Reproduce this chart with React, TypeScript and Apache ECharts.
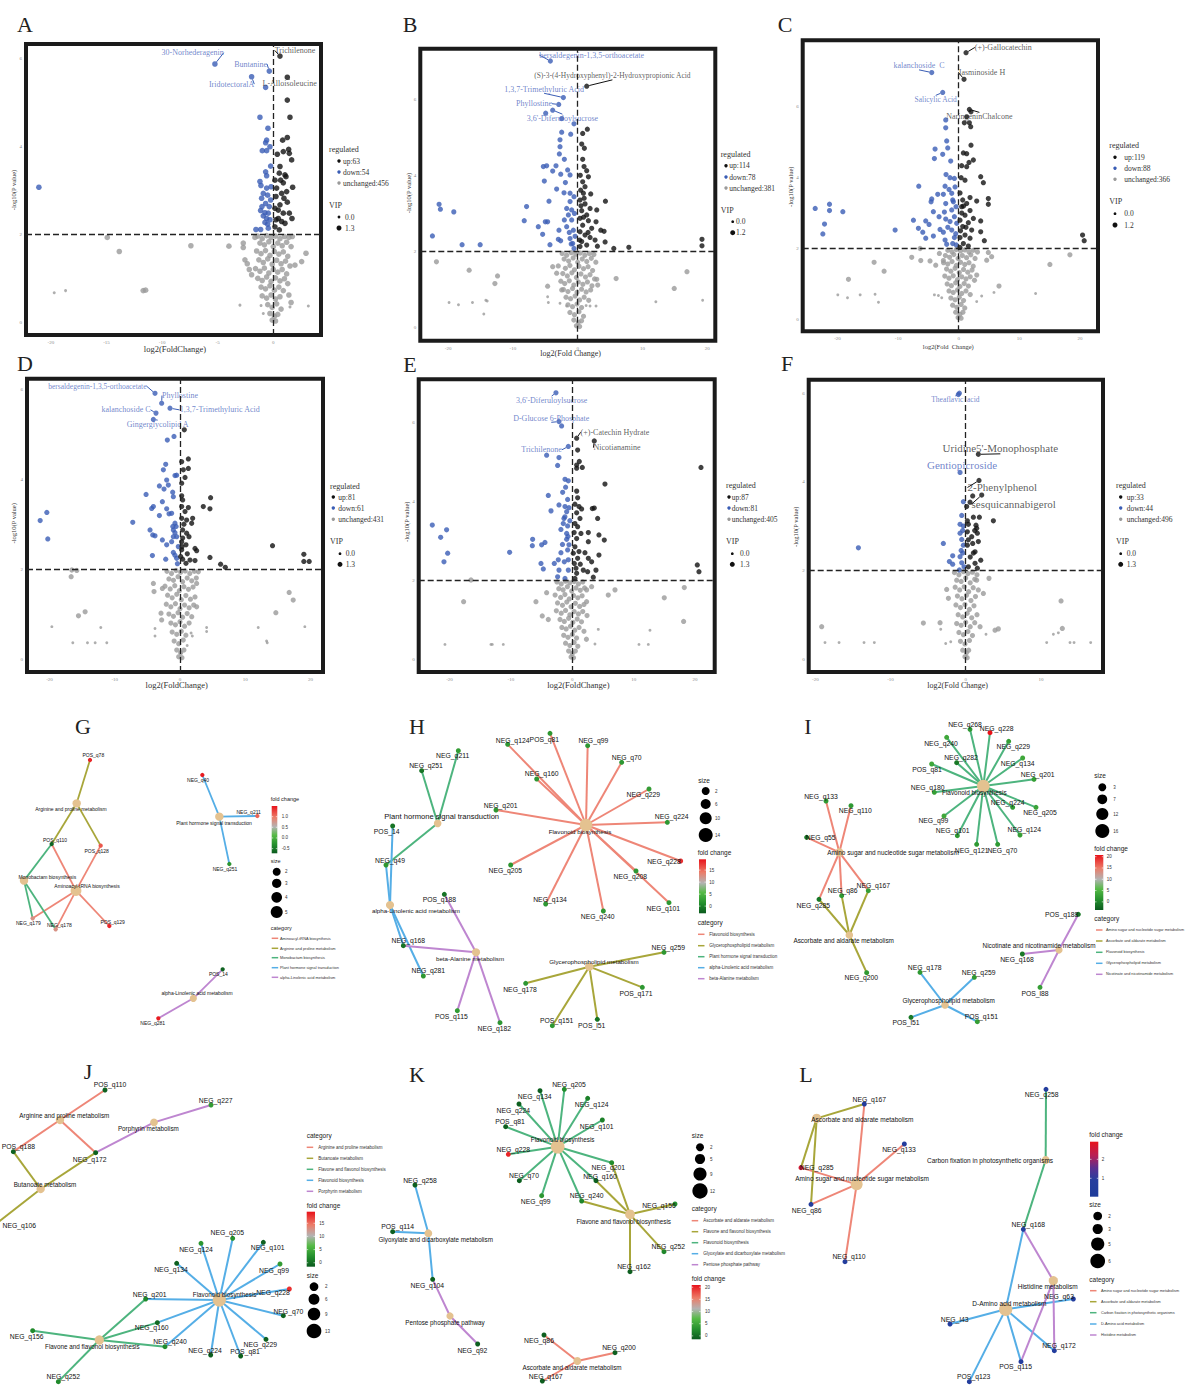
import React, { useEffect, useRef } from "react";
import * as echarts from "echarts";

const SERIF = "'Liberation Serif','Times New Roman',Times,serif";
const NARROW = "'Liberation Sans Narrow','Arial Narrow','Liberation Sans',Arial,sans-serif";
const BLUE = "#3a5db5";
const BLACK = "#111111";
const GREY = "#9a9a9a";
const BLUE_TXT = "#4d68bd";
const BLACK_TXT = "#333333";
const TAN = "#E4C290";
const CAT_COLORS = ["#EE8677", "#A8A63A", "#4DB47E", "#55AEE6", "#BE86D0"];

// ---------- volcano tick labels ----------
const xTicksA = [-20, -15, -10, -5, 0];
const xTicksWide = [-20, -10, 0, 10, 20];
const xTicksF = [-20, -10, 0, 10];
const yTicks = [0, 2, 4, 6];

// ---------- volcano A : [log2FC, -log10P, VIP big(1)/small(0)] ----------
const aCounts = [63, 54, 456];
const aVip = ["0.0", "1.3"];
const aAnn = [
  ["30-Norhederagenin", "down", -5.25, 5.87],
  ["Buntanine", "down", -0.36, 5.71],
  ["IridotectoralA", "down", -1.95, 5.58],
  ["Trichilenone", "up", 0.6, 6.05],
  ["L-Alloisoleucine", "up", 1.26, 5.57],
];
const aDown = [[-0.69,5.34,1],[-1.2,4.66,1],[-0.48,4.41,1],[-0.6,4.14,1],[-0.69,4.08,1],[-0.3,3.99,1],[-0.99,3.9,1],[-0.6,3.9,1],[-0.24,3.55,1],[-0.69,3.42,1],[-0.6,3.33,1],[-1.2,3.2,1],[-1.11,3.11,1],[-0.6,3.05,1],[-0.9,2.93,1],[-0.51,2.89,1],[-1.05,2.82,1],[-0.24,2.78,1],[-0.69,2.7,1],[-0.36,2.63,1],[-1.14,2.54,1],[-0.75,2.49,1],[-0.45,2.48,1],[-0.9,2.42,1],[-0.6,2.36,1],[-0.3,2.33,1],[-0.75,2.27,1],[-0.51,2.23,1],[-1.56,2.11,1],[-1.14,2.11,1],[-0.45,2.14,1],[-21.08,3.07,1],[-0.2,3.08,1],[-1.02,2.63,1]];
const aUp = [[1.26,5.05,1],[1.5,4.66,1],[0.84,4.14,1],[1.26,4.2,1],[0.36,3.82,1],[0.9,3.88,1],[1.38,3.93,1],[1.44,3.84,1],[1.65,3.69,1],[0.6,3.54,1],[0.54,3.39,1],[1.05,3.35,1],[0.15,3.23,1],[0.9,3.17,1],[1.74,3.07,1],[0.3,3.05,1],[1.2,2.97,1],[0.75,2.93,1],[0.24,2.86,1],[0.96,2.82,1],[1.26,2.73,1],[0.6,2.67,1],[0.15,2.59,1],[0.9,2.48,1],[1.44,2.48,1],[0.45,2.36,1],[1.68,2.36,1],[0.75,2.29,1],[0.24,2.33,1],[0.54,2.1,1],[0.15,2.17,1],[1.05,2.25,1],[0.66,3.23,1],[1.14,3.31,1],[0.45,2.55,1]];
const aUnchangedOut = [[-14.93,1.93,1],[-13.85,1.61,1],[-7.41,1.74,1],[-3.99,1.73,1],[-2.7,1.8,1],[-2.7,1.7,1],[-1.65,1.93,1],[-19.7,0.67,0],[-18.68,0.72,0],[-11.7,0.72,1],[-11.48,0.73,1],[-3.0,0.39,0],[3.15,0.37,0],[2.94,1.57,1],[2.55,1.38,1],[1.95,1.3,1],[1.71,1.95,1],[-2.55,1.42,1],[-2.34,1.33,1],[-2.16,1.2,1],[-1.95,1.08,1]];
const aUnchangedCore = [[-1.4,1.96,1],[-1.0,1.9,1],[-0.6,1.97,1],[-0.2,1.93,1],[0.2,1.96,1],[0.6,1.9,1],[1.0,1.95,1],[1.4,1.93,1],[-1.2,1.8,1],[-0.8,1.76,1],[-0.4,1.83,1],[0.0,1.72,1],[0.4,1.8,1],[0.8,1.74,1],[1.2,1.82,1],[1.6,1.72,1],[-1.5,1.62,1],[-1.1,1.56,1],[-0.7,1.63,1],[-0.3,1.52,1],[0.1,1.61,1],[0.5,1.55,1],[0.9,1.6,1],[1.3,1.5,1],[-1.3,1.42,1],[-0.9,1.36,1],[-0.5,1.44,1],[-0.1,1.32,1],[0.3,1.41,1],[0.7,1.33,1],[1.1,1.39,1],[1.5,1.28,1],[-1.6,1.22,1],[-1.2,1.16,1],[-0.8,1.23,1],[-0.4,1.12,1],[0.0,1.2,1],[0.4,1.14,1],[0.8,1.2,1],[1.2,1.1,1],[-1.4,1.0,1],[-1.0,0.95,1],[-0.6,1.03,1],[-0.2,0.93,1],[0.2,1.01,1],[0.6,0.94,1],[1.0,0.99,1],[1.3,0.88,1],[-1.1,0.8,1],[-0.7,0.76,1],[-0.3,0.83,1],[0.1,0.73,1],[0.5,0.8,1],[0.9,0.72,1],[1.4,0.62,1],[-1.0,0.6,1],[-0.6,0.55,1],[-0.2,0.62,1],[0.2,0.53,1],[0.6,0.58,1],[1.6,0.45,1],[-1.1,0.38,0],[-0.5,0.4,1],[-0.1,0.34,1],[0.3,0.42,1],[0.7,0.3,1],[1.5,0.35,0],[-0.9,0.2,0],[-0.3,0.2,1],[0.1,0.14,1],[0.4,0.18,1],[-0.1,0.05,1],[0.2,0.03,1]];

// ---------- volcano B ----------
const bCounts = [114, 78, 381];
const bVip = ["0.0", "1.2"];
const bAnn = [
  ["bersaldegenin-1,3,5-orthoacetate", "down", -4.22, 7.0],
  ["(S)-3-(4-Hydroxyphenyl)-2-Hydroxypropionic Acid", "up", 1.39, 6.34],
  ["1,3,7-Trimethyluric Acid", "down", -2.21, 6.04],
  ["Phyllostine", "down", -2.93, 5.86],
  ["3,6'-Diferuloylsucrose", "down", -3.86, 5.71],
];
const bDown = [[-4.94,5.63,1],[-2.47,5.49,1],[-0.57,5.35,1],[-2.47,5.13,1],[-1.08,5.08,1],[-2.73,4.93,1],[-2.73,4.75,1],[-2.83,4.56,1],[-2.06,4.42,1],[-5.3,4.23,1],[-4.79,4.25,1],[-3.35,4.25,1],[-3.86,4.11,1],[-1.55,4.14,1],[-2.62,4.03,1],[-1.18,4.01,1],[-5.15,3.85,1],[-1.9,3.81,1],[-3.25,3.64,1],[-2.11,3.54,1],[-1.18,3.53,1],[-0.57,3.44,1],[-4.43,3.32,1],[-7.89,3.18,1],[-1.18,3.31,1],[-1.7,3.13,1],[-0.93,3.09,1],[-8.25,2.81,1],[-5.0,2.78,1],[-4.64,2.78,1],[-2.06,2.83,1],[-6.08,2.65,1],[-5.41,2.45,1],[-2.89,2.56,1],[-1.7,2.65,1],[-0.67,2.56,1],[-2.99,2.32,1],[-2.63,2.28,1],[-1.18,2.34,1],[-4.28,2.18,1],[-0.77,2.21,1],[-0.57,2.08,1],[-21.39,3.24,1],[-21.19,3.11,1],[-19.12,3.04,1],[-22.42,2.41,1],[-17.84,2.18,1],[-15.05,2.18,1],[-1.44,2.96,1],[-0.93,2.83,1],[-0.4,2.4,1],[-1.3,2.5,1],[-0.5,3.0,1],[-1.0,2.2,1]];
const bUp = [[1.49,5.21,1],[0.77,5.1,1],[0.62,4.82,1],[1.03,4.71,1],[0.77,4.42,1],[0.98,4.23,1],[1.39,4.12,1],[1.65,3.96,1],[0.77,3.83,1],[1.13,3.7,1],[0.46,3.61,1],[0.88,3.53,1],[2.01,3.51,1],[0.36,3.35,1],[4.28,3.32,1],[1.13,3.25,1],[1.91,3.13,1],[2.94,3.09,1],[0.62,3.07,1],[1.39,2.96,1],[0.36,2.87,1],[1.65,2.81,1],[2.83,2.78,1],[0.77,2.69,1],[2.16,2.61,1],[3.56,2.56,1],[4.07,2.53,1],[0.36,2.52,1],[1.13,2.43,1],[1.91,2.37,1],[2.68,2.3,1],[4.23,2.25,1],[0.62,2.26,1],[1.39,2.17,1],[3.04,2.14,1],[0.36,2.13,1],[5.57,2.08,1],[7.89,2.11,1],[19.18,2.32,1],[19.18,2.15,1],[0.5,3.2,1],[1.0,3.4,1],[0.3,2.3,1],[0.9,2.9,1],[1.6,2.5,1],[0.4,4.0,1]];
const bUnchangedOut = [[-21.8,1.73,1],[-16.75,1.51,1],[-12.78,1.16,1],[-12.37,1.36,1],[-19.85,0.66,0],[-18.4,0.6,0],[-16.24,0.66,0],[-14.18,0.72,0],[-13.97,0.7,0],[-14.49,0.36,0],[-4.64,1.09,1],[-4.64,0.81,0],[-4.53,0.66,0],[-3.86,1.6,1],[-3.25,1.43,1],[-2.47,0.99,1],[-2.73,0.64,0],[-1.7,0.57,0],[1.91,0.57,0],[2.83,0.57,0],[3.09,1.12,1],[2.94,1.27,1],[5.93,1.29,1],[12.06,0.68,0],[14.9,1.03,1],[16.86,1.47,1],[19.28,0.72,0]];
const bUnchangedCore = [[-2.4,1.95,1],[-1.7,1.9,1],[-1.0,1.97,1],[-0.3,1.93,1],[0.4,1.96,1],[1.1,1.9,1],[1.8,1.95,1],[2.5,1.92,1],[-2.1,1.8,1],[-1.4,1.75,1],[-0.7,1.83,1],[0.0,1.72,1],[0.7,1.8,1],[1.4,1.74,1],[2.1,1.82,1],[2.8,1.72,1],[-3.0,1.62,1],[-1.9,1.56,1],[-1.2,1.63,1],[-0.5,1.52,1],[0.2,1.61,1],[0.9,1.55,1],[1.6,1.6,1],[2.3,1.5,1],[-2.3,1.42,1],[-1.6,1.36,1],[-0.9,1.44,1],[-0.2,1.32,1],[0.5,1.41,1],[1.2,1.33,1],[1.9,1.39,1],[2.6,1.28,1],[-2.6,1.22,1],[-2.0,1.16,1],[-1.3,1.23,1],[-0.6,1.12,1],[0.1,1.2,1],[0.8,1.14,1],[1.5,1.2,1],[2.2,1.1,1],[-2.2,1.0,1],[-1.5,0.95,1],[-0.8,1.03,1],[-0.1,0.93,1],[0.6,1.01,1],[1.3,0.94,1],[2.0,0.99,1],[-1.8,0.8,1],[-1.1,0.76,1],[-0.4,0.83,1],[0.3,0.73,1],[1.0,0.8,1],[1.7,0.72,1],[-1.5,0.6,1],[-0.8,0.55,1],[-0.1,0.62,1],[0.6,0.53,1],[1.3,0.58,0],[-1.2,0.4,1],[-0.5,0.34,1],[0.2,0.42,1],[0.9,0.3,1],[-0.6,0.2,1],[0.1,0.14,1],[0.6,0.18,1],[-0.2,0.05,1],[0.3,0.03,1]];

// ---------- volcano C ----------
const cCounts = [119, 88, 366];
const cVip = ["0.0", "1.2"];
const cAnn = [
  ["(+)-Gallocatechin", "up", 1.21, 7.53],
  ["kalanchoside  C", "down", -4.45, 6.97],
  ["Jasminoside H", "up", 0.88, 6.78],
  ["Salicylic Acid", "down", -2.64, 6.41],
  ["NaringeninChalcone", "up", 1.76, 5.93],
];
const cDown = [[-2.14,5.63,1],[-2.14,5.41,1],[-1.98,5.04,1],[-3.9,4.81,1],[-1.81,4.84,1],[-2.64,4.66,1],[-4.01,4.54,1],[-1.32,4.47,1],[-2.09,4.09,1],[-1.43,4.0,1],[-0.71,3.98,1],[-6.59,3.76,1],[-2.25,3.76,1],[-1.59,3.67,1],[-3.46,3.53,1],[-2.53,3.53,1],[-1.15,3.56,1],[-4.45,3.4,1],[-4.56,3.32,1],[-2.14,3.27,1],[-0.88,3.32,1],[-4.18,3.04,1],[-2.36,3.03,1],[-1.15,3.09,1],[-3.24,2.9,1],[-2.14,2.83,1],[-7.47,2.8,1],[-5.44,2.78,1],[-0.71,2.9,1],[-1.43,2.76,1],[-4.89,2.68,1],[-6.65,2.57,1],[-3.08,2.54,1],[-5.93,2.46,1],[-10.49,2.52,1],[-2.53,2.46,1],[-1.15,2.52,1],[-5.44,2.29,1],[-4.18,2.35,1],[-2.25,2.24,1],[-0.71,2.31,1],[-1.98,2.12,1],[-0.99,2.14,1],[-23.68,3.13,1],[-21.32,3.25,1],[-21.32,3.07,1],[-19.12,3.04,1],[-22.14,2.69,1],[-22.42,2.41,1],[-0.6,3.74,1],[-0.99,3.37,1],[-0.44,3.18,1],[-0.33,2.71,1],[-0.49,2.42,1],[-1.8,2.6,1],[-0.4,2.1,1]];
const cUp = [[2.03,5.86,1],[1.32,5.72,1],[0.93,5.55,1],[1.76,5.55,1],[1.98,5.44,1],[2.03,4.92,1],[0.77,4.7,1],[1.32,4.68,1],[2.42,4.5,1],[1.7,4.43,1],[0.49,4.34,1],[1.32,4.31,1],[3.63,4.03,1],[4.07,3.86,1],[1.04,3.93,1],[0.22,3.57,1],[1.87,3.44,1],[0.66,3.37,1],[2.97,3.34,1],[4.89,3.41,1],[4.89,3.25,1],[1.32,3.27,1],[0.49,3.18,1],[1.87,3.07,1],[1.04,2.94,1],[2.42,2.85,1],[3.63,2.78,1],[0.22,2.8,1],[1.59,2.73,1],[0.66,2.62,1],[2.14,2.52,1],[3.63,2.47,1],[1.04,2.38,1],[0.22,2.31,1],[1.87,2.29,1],[4.23,2.22,1],[0.77,2.14,1],[1.59,2.07,1],[0.22,2.03,1],[20.44,2.38,1],[20.71,2.22,1],[0.5,3.0,1],[1.2,2.6,1],[0.3,2.5,1],[0.8,3.2,1],[0.4,4.0,1]];
const cUnchangedOut = [[-13.96,1.61,1],[-12.31,1.36,1],[-18.19,1.13,1],[-19.95,0.69,0],[-18.35,0.61,0],[-16.26,0.69,0],[-13.8,0.71,0],[-13.24,0.48,0],[-7.75,1.75,1],[-6.37,2.0,1],[-6.26,1.66,1],[-4.73,1.65,1],[-3.79,1.53,1],[-3.19,1.86,1],[-2.53,1.66,1],[-4.01,0.69,0],[-3.35,0.67,0],[-2.8,0.61,0],[4.62,1.67,1],[5.44,1.77,1],[4.89,1.89,1],[6.65,0.94,1],[5.82,0.76,0],[2.97,0.5,0],[3.79,0.66,0],[12.69,0.73,0],[15.05,1.55,1],[18.35,1.82,1],[2.97,1.25,1]];
const cUnchangedCore = [[-1.8,1.95,1],[-1.1,1.9,1],[-0.4,1.97,1],[0.3,1.93,1],[1.0,1.96,1],[1.7,1.9,1],[2.4,1.95,1],[3.1,1.9,1],[-2.2,1.8,1],[-1.5,1.75,1],[-0.8,1.83,1],[-0.1,1.72,1],[0.6,1.8,1],[1.3,1.74,1],[2.0,1.82,1],[2.7,1.72,1],[-2.5,1.6,1],[-1.8,1.56,1],[-1.1,1.63,1],[-0.4,1.52,1],[0.3,1.61,1],[1.0,1.55,1],[1.7,1.6,1],[2.4,1.5,1],[-2.0,1.42,1],[-1.3,1.36,1],[-0.6,1.44,1],[0.1,1.32,1],[0.8,1.41,1],[1.5,1.33,1],[2.2,1.39,1],[-2.3,1.22,1],[-1.6,1.16,1],[-0.9,1.23,1],[-0.2,1.12,1],[0.5,1.2,1],[1.2,1.14,1],[1.9,1.2,1],[2.6,1.1,1],[-1.9,1.0,1],[-1.2,0.95,1],[-0.5,1.03,1],[0.2,0.93,1],[0.9,1.01,1],[1.6,0.94,1],[-1.6,0.8,1],[-0.9,0.76,1],[-0.2,0.83,1],[0.5,0.73,1],[1.2,0.8,1],[1.9,0.7,1],[-1.3,0.6,1],[-0.6,0.55,1],[0.1,0.62,1],[0.8,0.53,1],[-1.0,0.4,1],[-0.3,0.34,1],[0.4,0.42,1],[1.0,0.32,1],[-0.5,0.2,1],[0.2,0.14,1],[0.7,0.2,1],[-0.1,0.05,1],[0.4,0.03,1]];

// ---------- volcano D ----------
const dCounts = [81, 61, 431];
const dVip = ["0.0", "1.3"];
const dAnn = [
  ["bersaldegenin-1,3,5-orthoacetate", "down", -3.83, 5.91],
  ["Phyllostine", "down", -2.81, 5.69],
  ["kalanchoside C", "down", -3.68, 5.47],
  ["1,3,7-Trimethyluric Acid", "down", -1.53, 5.58],
  ["Gingerglycolipid A", "down", -4.08, 5.33],
];
const dDown = [[-1.94,4.87,1],[-0.92,4.95,1],[-2.19,4.33,1],[-2.55,4.21,1],[-0.51,4.09,1],[-0.77,4.08,1],[-2.04,3.98,1],[-3.16,3.85,1],[-2.45,3.78,1],[-1.79,3.87,1],[-1.12,3.71,1],[-1.02,3.61,1],[-5.2,3.66,1],[-4.08,3.39,1],[-4.34,3.35,1],[-2.7,3.5,1],[-2.04,3.34,1],[-3.16,3.19,1],[-1.68,3.23,1],[-1.28,3.24,1],[-7.24,3.04,1],[-4.59,2.87,1],[-4.18,2.76,1],[-3.83,2.74,1],[-1.02,2.87,1],[-0.77,2.81,1],[-2.7,2.65,1],[-1.28,2.61,1],[-2.04,2.54,1],[-1.02,2.37,1],[-0.77,2.31,1],[-4.23,2.3,1],[-2.19,2.22,1],[-0.51,2.24,1],[-21.43,3.08,1],[-20.41,3.26,1],[-20.26,2.67,1],[-0.77,3.02,1],[-0.51,2.72,1],[-1.02,2.72,1],[-0.26,2.5,1],[-0.6,2.95,1],[-1.1,2.95,1],[-0.4,2.12,1]];
const dUp = [[0.66,5.1,1],[1.28,4.45,1],[0.26,4.39,1],[1.28,4.24,1],[0.51,4.21,1],[0.77,4.04,1],[0.26,3.91,1],[0.26,3.63,1],[0.41,3.54,1],[4.69,3.59,1],[3.57,3.39,1],[4.59,3.34,1],[0.26,3.39,1],[1.28,3.37,1],[0.77,3.28,1],[1.94,3.13,1],[0.26,3.13,1],[1.02,3.09,1],[1.79,3.02,1],[0.41,2.87,1],[1.38,2.72,1],[0.26,2.61,1],[0.92,2.54,1],[2.3,2.46,1],[2.55,2.41,1],[0.26,2.43,1],[1.12,2.34,1],[0.41,2.22,1],[1.53,2.2,1],[2.3,2.19,1],[4.59,2.26,1],[6.22,2.11,1],[6.94,2.04,1],[0.92,2.13,1],[14.18,2.52,1],[18.98,2.33,1],[18.98,2.17,1],[19.8,2.17,1],[0.41,2.69,1],[1.02,2.8,1],[0.1,2.28,1],[0.6,3.0,1],[0.3,2.5,1]];
const dUnchangedOut = [[-16.58,1.98,1],[-16.68,1.83,1],[-15.82,1.97,1],[-15.56,0.96,1],[-14.54,1.05,1],[-19.64,0.72,0],[-12.14,0.7,0],[-16.43,0.36,0],[-14.18,0.36,0],[-13.0,0.36,0],[-11.22,0.36,0],[-3.83,0.68,0],[-3.83,0.51,0],[-4.08,1.68,1],[-3.98,1.5,1],[-2.7,1.57,1],[-2.91,1.02,1],[-2.81,0.87,1],[2.81,1.94,1],[2.55,1.68,1],[2.55,1.16,1],[4.08,0.7,0],[4.08,0.61,0],[1.89,0.51,0],[11.99,0.7,0],[13.27,0.4,0],[13.37,0.36,0],[14.69,1.03,1],[16.73,1.48,1],[17.35,1.31,1],[19.13,0.72,0]];
const dUnchangedCore = [[-2.0,1.95,1],[-1.3,1.9,1],[-0.6,1.97,1],[0.1,1.93,1],[0.8,1.96,1],[1.5,1.9,1],[2.2,1.95,1],[-1.7,1.78,1],[-1.0,1.75,1],[-0.3,1.83,1],[0.4,1.72,1],[1.1,1.8,1],[1.8,1.74,1],[2.5,1.8,1],[-2.3,1.62,1],[-1.5,1.56,1],[-0.8,1.63,1],[-0.1,1.52,1],[0.6,1.61,1],[1.3,1.55,1],[2.0,1.6,1],[-1.9,1.42,1],[-1.2,1.36,1],[-0.5,1.44,1],[0.2,1.32,1],[0.9,1.41,1],[1.6,1.33,1],[2.3,1.38,1],[-2.1,1.22,1],[-1.4,1.16,1],[-0.7,1.23,1],[0.0,1.12,1],[0.7,1.2,1],[1.4,1.14,1],[2.1,1.2,1],[-1.7,1.0,1],[-1.0,0.95,1],[-0.3,1.03,1],[0.4,0.93,1],[1.1,1.01,1],[1.8,0.94,1],[-1.4,0.8,1],[-0.7,0.76,1],[0.0,0.83,1],[0.7,0.73,1],[1.4,0.8,1],[-1.2,0.6,1],[-0.5,0.55,1],[0.2,0.62,1],[0.9,0.53,1],[1.7,0.58,0],[-0.9,0.4,1],[-0.2,0.34,1],[0.5,0.42,1],[1.1,0.3,0],[-0.5,0.2,1],[0.1,0.14,1],[0.6,0.2,1],[-0.2,0.05,1],[0.3,0.03,1]];

// ---------- volcano E ----------
const eCounts = [87, 81, 405];
const eVip = ["0.0", "1.3"];
const eAnn = [
  ["3,6'-Diferuloylsucrose", "down", -2.66, 6.74],
  ["D-Glucose 6-Phosphate", "down", -2.17, 6.01],
  ["(+)-Catechin Hydrate", "up", 0.71, 5.59],
  ["Nicotianamine", "up", 3.58, 5.52],
  ["Trichilenone", "down", -0.65, 5.38],
];
const eDown = [[-1.74,5.9,1],[-4.18,5.16,1],[-2.17,5.1,1],[-2.39,4.9,1],[-1.19,4.55,1],[-0.65,4.51,1],[-1.09,4.35,1],[-3.91,4.14,1],[-1.57,4.22,1],[-0.76,4.04,1],[-2.17,3.9,1],[-1.19,3.86,1],[-0.54,3.83,1],[-3.47,3.75,1],[-0.92,3.73,1],[-1.36,3.56,1],[-1.47,3.43,1],[-0.76,3.37,1],[-1.85,3.28,1],[-0.92,3.18,1],[-6.46,3.03,1],[-4.45,2.95,1],[-4.99,2.89,1],[-6.51,2.87,1],[-0.92,3.03,1],[-0.54,2.89,1],[-10.21,2.7,1],[-1.85,2.69,1],[-0.76,2.76,1],[-5.1,2.42,1],[-2.93,2.42,1],[-4.72,2.28,1],[-2.28,2.51,1],[-1.3,2.46,1],[-0.65,2.51,1],[-2.17,2.25,1],[-0.65,2.25,1],[-2.39,2.08,1],[-1.19,2.04,1],[-22.8,3.39,1],[-20.47,3.27,1],[-21.44,3.08,1],[-20.3,2.68,1],[-20.9,2.46,1],[-1.2,3.6,1],[-0.4,3.5,1],[-0.7,3.1,1],[-1.6,2.9,1]];
const eUp = [[0.87,5.29,1],[1.14,5.0,1],[0.71,4.91,1],[1.63,4.85,1],[0.71,4.83,1],[20.96,4.85,1],[5.32,4.43,1],[0.71,4.25,1],[0.87,4.08,1],[0.43,3.92,1],[1.09,3.86,1],[1.52,3.8,1],[3.26,3.81,1],[3.58,3.82,1],[0.71,3.7,1],[1.25,3.56,1],[4.13,3.56,1],[0.43,3.43,1],[0.87,3.35,1],[2.61,3.2,1],[1.41,3.18,1],[4.34,3.14,1],[0.71,3.05,1],[5.21,3.01,1],[2.61,2.97,1],[0.43,2.84,1],[1.09,2.72,1],[0.16,2.68,1],[2.06,2.69,1],[4.34,2.63,1],[0.87,2.55,1],[2.61,2.55,1],[3.15,2.46,1],[0.33,2.42,1],[1.79,2.25,1],[3.85,2.25,1],[2.5,2.21,1],[0.71,2.17,1],[3.42,2.07,1],[0.43,2.04,1],[20.36,2.38,1],[20.63,2.21,1],[0.3,3.2,1],[1.3,2.4,1],[0.6,2.3,1]];
const eUnchangedOut = [[-16.5,2.0,1],[-17.7,1.45,1],[-20.74,0.37,0],[-13.25,0.37,0],[-13.03,0.37,0],[-11.24,0.37,0],[-5.92,1.45,1],[-4.89,1.09,1],[-3.91,1.0,1],[-4.18,1.68,1],[2.33,1.75,1],[3.15,1.83,1],[2.33,1.45,1],[5.86,1.62,1],[6.95,1.75,1],[4.23,0.75,0],[3.69,0.38,0],[10.86,0.37,0],[12.38,0.37,0],[12.65,0.73,0],[14.98,1.55,1],[18.24,1.81,1],[18.13,0.95,1]];
const eUnchangedCore = [[-2.5,1.95,1],[-1.8,1.9,1],[-1.1,1.97,1],[-0.4,1.93,1],[0.3,1.96,1],[1.0,1.9,1],[1.7,1.95,1],[-2.2,1.78,1],[-1.5,1.75,1],[-0.8,1.83,1],[-0.1,1.72,1],[0.6,1.8,1],[1.3,1.74,1],[2.0,1.8,1],[-2.8,1.62,1],[-1.9,1.56,1],[-1.2,1.63,1],[-0.5,1.52,1],[0.2,1.61,1],[0.9,1.55,1],[1.6,1.6,1],[-2.4,1.42,1],[-1.6,1.36,1],[-0.9,1.44,1],[-0.2,1.32,1],[0.5,1.41,1],[1.2,1.33,1],[1.9,1.38,1],[-2.6,1.22,1],[-1.8,1.16,1],[-1.1,1.23,1],[-0.4,1.12,1],[0.3,1.2,1],[1.0,1.14,1],[1.7,1.2,1],[2.4,1.1,1],[-2.0,1.0,1],[-1.3,0.95,1],[-0.6,1.03,1],[0.1,0.93,1],[0.8,1.01,1],[1.5,0.94,1],[-1.7,0.8,1],[-1.0,0.76,1],[-0.3,0.83,1],[0.4,0.73,1],[1.1,0.8,1],[1.9,0.7,1],[-1.4,0.6,1],[-0.7,0.55,1],[0.0,0.62,1],[0.7,0.53,1],[2.3,0.5,1],[-1.1,0.4,1],[-0.4,0.34,1],[0.3,0.42,1],[0.9,0.32,1],[-0.6,0.2,1],[0.0,0.14,1],[0.5,0.2,1],[-0.2,0.05,1],[0.2,0.03,1]];

// ---------- volcano F ----------
const fCounts = [33, 44, 496];
const fVip = ["0.0", "1.3"];
const fAnn = [
  ["Theaflavic  acid", "down", -0.84, 6.0],
  ["Uridine5'-Monophosphate", "up", 1.68, 4.62],
  ["Gentiopicroside", "down", -0.75, 4.21],
  ["2-Phenylphenol", "up", 1.77, 4.03],
  ["sesquicannabigerol", "up", 2.13, 3.7],
];
const fDown = [[-0.98,5.97,1],[-0.31,3.55,1],[-0.53,3.24,1],[-0.75,3.04,1],[-0.31,3.0,1],[-0.53,2.7,1],[-2.97,2.61,1],[-0.31,2.57,1],[-14.27,2.51,1],[-0.4,2.39,1],[-1.73,2.33,1],[-0.75,2.31,1],[-2.17,2.2,1],[-1.73,2.14,1],[-0.53,2.17,1],[-0.84,2.01,1],[-0.22,2.08,1],[-0.75,2.84,1],[-0.4,2.9,1],[-0.6,2.45,1]];
const fUp = [[0.93,3.68,1],[0.58,3.54,1],[0.13,3.44,1],[1.02,3.2,1],[1.82,3.2,1],[3.68,3.12,1],[0.22,3.12,1],[0.35,3.04,1],[1.37,3.02,1],[1.46,2.95,1],[0.22,2.87,1],[1.55,2.84,1],[0.8,2.76,1],[0.35,2.69,1],[1.68,2.65,1],[0.93,2.61,1],[0.22,2.57,1],[1.24,2.42,1],[1.02,2.39,1],[2.0,2.23,1],[1.24,2.16,1],[0.35,2.08,1],[1.55,2.05,1],[0.6,2.3,1],[1.2,2.9,1]];
const fUnchangedOut = [[3.1,1.82,1],[1.46,1.78,1],[1.68,1.56,1],[2.35,1.48,1],[-2.53,1.57,1],[-2.3,1.37,1],[-5.63,0.81,1],[-3.41,0.82,1],[-3.32,0.67,0],[-2.66,0.35,0],[-1.99,0.39,0],[-19.15,0.73,1],[-18.71,0.37,0],[-16.84,0.37,0],[-13.52,0.37,0],[-12.15,0.37,0],[1.91,0.73,1],[2.7,0.56,0],[3.9,0.65,1],[4.34,0.68,1],[12.68,1.31,1],[12.85,0.69,1],[11.66,0.56,0],[12.32,0.59,0],[10.77,0.37,0],[13.87,0.37,0],[14.41,0.37,0],[16.62,0.37,0]];
const fUnchangedCore = [[-1.5,1.95,1],[-0.9,1.9,1],[-0.3,1.97,1],[0.3,1.93,1],[0.9,1.96,1],[1.5,1.9,1],[-1.2,1.78,1],[-0.6,1.75,1],[0.0,1.83,1],[0.6,1.72,1],[1.2,1.8,1],[-1.4,1.62,1],[-0.8,1.56,1],[-0.2,1.63,1],[0.4,1.52,1],[1.0,1.61,1],[-1.1,1.42,1],[-0.5,1.36,1],[0.1,1.44,1],[0.7,1.32,1],[1.3,1.41,1],[-1.3,1.22,1],[-0.7,1.16,1],[-0.1,1.23,1],[0.5,1.12,1],[1.1,1.2,1],[-1.0,1.0,1],[-0.4,0.95,1],[0.2,1.03,1],[0.8,0.93,1],[1.5,1.0,1],[-1.2,0.8,1],[-0.6,0.76,1],[0.0,0.83,1],[0.6,0.73,1],[1.2,0.82,1],[-0.9,0.6,1],[-0.3,0.55,1],[0.3,0.62,1],[0.9,0.53,1],[-0.7,0.4,1],[-0.1,0.34,1],[0.5,0.42,1],[-0.4,0.2,1],[0.1,0.14,1],[0.4,0.2,1],[-0.1,0.05,1],[0.2,0.03,1]];

// ---------- networks : categories [name, x, y, labelX, labelY]; metabolites [name, x, y, foldChange, labelX, labelY]; links [categoryIndex, metabolite] ----------
const gCats = [
  ["Aminoacyl-tRNA biosynthesis", 228, 572, 261, 558],
  ["Arginine and proline metabolism", 230, 310, 213, 327],
  ["Monobactam biosynthesis", 72, 542, 142, 530],
  ["Plant hormone signal transduction", 658, 350, 642, 368],
  ["alpha-Linolenic acid metabolism", 580, 895, 591, 880],
];
const gMets = [
  ["POS_q78", 270, 180, 1.4, 280, 165],
  ["POS_q110", 155, 432, -0.65, 165, 420],
  ["POS_q128", 302, 437, 1.15, 290, 452],
  ["NEG_q179", 98, 655, 0.8, 85, 668],
  ["NEG_q178", 167, 688, 0.8, 178, 675],
  ["POS_q129", 328, 678, 1.4, 338, 665],
  ["NEG_q40", 607, 225, 1.45, 594, 240],
  ["NEG_q211", 772, 348, 1.1, 746, 336],
  ["NEG_q251", 688, 492, -0.25, 675, 506],
  ["POS_14", 668, 808, -0.65, 655, 822],
  ["NEG_q281", 475, 955, 1.45, 458, 968],
];
const gLinks = [[0,"POS_q110"],[0,"POS_q128"],[0,"NEG_q179"],[0,"NEG_q178"],[0,"POS_q129"],[1,"POS_q78"],[1,"POS_q110"],[1,"POS_q128"],[2,"POS_q110"],[2,"NEG_q179"],[2,"NEG_q178"],[3,"NEG_q40"],[3,"NEG_q211"],[3,"NEG_q251"],[4,"POS_14"],[4,"NEG_q281"]];
const gSizeVals = [2, 3, 4, 5];
const gFoldTicks = [1.0, 0.5, 0.0, -0.5];

const hCats = [
  ["Flavonoid biosynthesis", 648, 375, 630, 393],
  ["Glycerophospholipid metabolism", 658, 800, 672, 785],
  ["Plant hormone signal transduction", 203, 370, 215, 350],
  ["alpha-Linolenic acid metabolism", 60, 615, 138, 632],
  ["beta-Alanine metabolism", 318, 757, 300, 775],
];
const hMets = [
  ["NEG_q211",265,152,2.5,248,167],["NEG_q251",155,212,-1,168,197],["POS_14",68,378,-1,50,395],["NEG_q49",48,495,2,60,480],
  ["POS_q188",223,583,-1,208,598],["NEG_q168",100,737,-1,115,720],["NEG_q281",160,828,2,175,812],["POS_q115",262,932,2.5,244,948],
  ["NEG_q182",390,968,2,373,985],["NEG_q124",413,133,2,428,120],["POS_q81",540,100,2,523,117],["NEG_q99",653,137,2,670,122],
  ["NEG_q70",755,187,2,770,172],["NEG_q160",500,237,2,515,220],["NEG_q229",837,267,2.5,820,284],["NEG_q201",378,330,2,392,315],
  ["NEG_q224",892,367,2,905,350],["NEG_q228",932,483,18,882,483],["NEG_q205",422,495,2,406,510],["NEG_q208",798,513,2,781,530],
  ["NEG_q134",527,612,2,540,598],["NEG_q240",700,633,2,683,650],["NEG_q101",897,608,2,880,625],["NEG_q259",882,757,2,895,742],
  ["NEG_q178",467,850,2,450,867],["POS_q171",817,862,2,798,880],["POS_q151",547,977,2,560,962],["POS_l51",682,958,-1,665,975],
];
const hLinks = [[0,"NEG_q124"],[0,"POS_q81"],[0,"NEG_q99"],[0,"NEG_q70"],[0,"NEG_q160"],[0,"NEG_q229"],[0,"NEG_q201"],[0,"NEG_q224"],[0,"NEG_q228"],[0,"NEG_q205"],[0,"NEG_q208"],[0,"NEG_q134"],[0,"NEG_q240"],[0,"NEG_q101"],[1,"NEG_q259"],[1,"NEG_q178"],[1,"POS_q171"],[1,"POS_q151"],[1,"POS_l51"],[2,"NEG_q211"],[2,"NEG_q251"],[2,"NEG_q49"],[3,"POS_14"],[3,"NEG_q49"],[3,"NEG_q168"],[3,"NEG_q281"],[4,"POS_q188"],[4,"NEG_q168"],[4,"POS_q115"],[4,"NEG_q182"]];
const hSizeVals = [2, 6, 10, 14];
const hFoldTicks = [15, 10, 5, 0];

const iCats = [
  ["Amino sugar and nucleotide sugar metabolism", 178, 457, 339, 457],
  ["Ascorbate and aldarate metabolism", 208, 705, 191, 722],
  ["Flavonoid biosynthesis", 610, 258, 583, 277],
  ["Glycerophospholipid metabolism", 495, 915, 506, 900],
  ["Nicotinate and nicotinamide metabolism", 837, 750, 777, 735],
];
const iMets = [
  ["NEG_q268",570,88,2,555,73],["NEG_q228",630,98,21,650,85],["NEG_q240",500,112,3.5,483,130],["NEG_q229",686,124,2.5,700,140],
  ["NEG_q282",530,188,-1,543,172],["NEG_q134",728,174,3.5,713,190],["POS_q81",455,192,3.5,441,207],["NEG_q201",762,238,2.5,773,222],
  ["NEG_q180",463,277,2.5,443,262],["NEG_q224",698,322,2,683,307],["NEG_q205",768,322,3,780,338],["NEG_q99",492,348,3.5,460,362],
  ["NEG_q124",720,405,2.5,733,389],["NEG_q101",532,407,2,518,392],["NEG_q121",590,433,2,575,450],["NEG_q70",653,433,2,667,450],
  ["NEG_q133",138,303,2,123,288],["NEG_q110",213,317,2,226,332],["NEG_q55",80,412,-1,122,412],["NEG_q86",185,587,2,188,570],
  ["NEG_q167",265,572,2.5,280,555],["NEG_q285",117,598,-1,100,617],["NEG_q200",260,818,2,244,833],["NEG_q178",420,817,2,434,802],
  ["NEG_q259",583,832,2,596,817],["POS_l51",393,952,-1,378,968],["POS_q151",592,965,2.5,604,948],["POS_q188",895,643,-1,845,643],
  ["NEG_q168",727,762,-1,711,778],["POS_l88",780,862,2.5,765,880],
];
const iLinks = [[0,"NEG_q133"],[0,"NEG_q110"],[0,"NEG_q55"],[0,"NEG_q86"],[0,"NEG_q167"],[0,"NEG_q285"],[1,"NEG_q285"],[1,"NEG_q86"],[1,"NEG_q167"],[1,"NEG_q200"],[2,"NEG_q268"],[2,"NEG_q228"],[2,"NEG_q240"],[2,"NEG_q229"],[2,"NEG_q282"],[2,"NEG_q134"],[2,"POS_q81"],[2,"NEG_q201"],[2,"NEG_q180"],[2,"NEG_q224"],[2,"NEG_q205"],[2,"NEG_q99"],[2,"NEG_q124"],[2,"NEG_q101"],[2,"NEG_q121"],[2,"NEG_q70"],[3,"NEG_q178"],[3,"NEG_q259"],[3,"POS_l51"],[3,"POS_q151"],[4,"POS_q188"],[4,"NEG_q168"],[4,"POS_l88"]];
const iSizeVals = [3, 7, 12, 16];
const iFoldTicks = [20, 15, 10, 5, 0];

const jCats = [
  ["Arginine and proline metabolism", 180, 210, 193, 197],
  ["Butanoate metabolism", 122, 417, 135, 402],
  ["Flavone and flavonol biosynthesis", 298, 870, 277, 890],
  ["Flavonoid biosynthesis", 658, 750, 674, 733],
  ["Porphyrin metabolism", 462, 217, 445, 235],
];
const jMets = [
  ["POS_q110",315,120,-1,330,103],["NEG_q227",633,165,3.5,647,150],["POS_q188",40,305,-1,55,290],["NEG_q172",287,308,-1,269,327],
  ["NEG_q106",-10,520,2,58,527],["NEG_q205",698,565,2.5,682,548],["NEG_q124",603,580,3,588,597],["NEG_q101",790,577,-1,803,593],
  ["NEG_q134",530,640,-1,513,657],["NEG_q99",840,642,3.5,822,660],["NEG_q228",868,717,18,819,727],["NEG_q201",437,747,2,449,733],
  ["NEG_q70",850,797,-1,865,785],["NEG_q160",472,818,-0.5,455,833],["NEG_q240",495,890,2,510,875],["NEG_q229",798,868,-1,781,883],
  ["NEG_q224",632,915,-1,615,902],["POS_q81",722,918,-1,735,905],["NEG_q156",98,842,2,80,858],["NEG_q252",175,995,2,190,980],
];
const jLinks = [[0,"POS_q110"],[0,"POS_q188"],[0,"NEG_q172"],[1,"POS_q188"],[1,"NEG_q172"],[1,"NEG_q106"],[2,"NEG_q201"],[2,"NEG_q160"],[2,"NEG_q240"],[2,"NEG_q156"],[2,"NEG_q252"],[3,"NEG_q205"],[3,"NEG_q124"],[3,"NEG_q101"],[3,"NEG_q134"],[3,"NEG_q99"],[3,"NEG_q228"],[3,"NEG_q201"],[3,"NEG_q70"],[3,"NEG_q160"],[3,"NEG_q240"],[3,"NEG_q229"],[3,"NEG_q224"],[3,"POS_q81"],[4,"NEG_q227"],[4,"NEG_q172"]];
const jSizeVals = [2, 6, 9, 13];
const jFoldTicks = [15, 10, 5, 0];

const kCats = [
  ["Ascorbate and aldarate metabolism", 592, 933, 576, 952],
  ["Flavone and flavonol biosynthesis", 750, 493, 731, 513],
  ["Flavonoid biosynthesis", 533, 290, 548, 268],
  ["Glyoxylate and dicarboxylate metabolism", 145, 550, 167, 568],
  ["Pentose phosphate pathway", 210, 798, 195, 817],
];
const kMets = [
  ["NEG_q205",553,118,2.5,567,103],["NEG_q134",480,122,-1,464,140],["NEG_q124",623,145,1.5,635,162],["NEG_q224",417,162,-1,400,180],
  ["NEG_q101",667,210,1.5,650,228],["POS_q81",377,230,-1,390,215],["NEG_q228",385,313,20,400,298],["NEG_q201",695,338,2.5,685,352],
  ["NEG_q70",418,392,-1,432,377],["NEG_q160",648,392,-1,660,378],["NEG_q99",485,437,3.5,467,453],["NEG_q240",605,453,2,620,437],
  ["NEG_q156",885,462,2.5,837,465],["NEG_q252",852,605,2,865,590],["NEG_q162",750,665,-1,762,650],["NEG_q258",105,405,-1,120,390],
  ["POS_q114",38,545,-1,53,528],["NEG_q104",158,688,-1,142,705],["NEG_q92",293,882,-1,277,900],["NEG_q86",492,855,-1,477,872],
  ["NEG_q200",705,908,-1,717,893],["NEG_q167",487,993,-1,497,980],
];
const kLinks = [[0,"NEG_q86"],[0,"NEG_q200"],[0,"NEG_q167"],[1,"NEG_q201"],[1,"NEG_q160"],[1,"NEG_q240"],[1,"NEG_q156"],[1,"NEG_q252"],[1,"NEG_q162"],[2,"NEG_q205"],[2,"NEG_q134"],[2,"NEG_q124"],[2,"NEG_q224"],[2,"NEG_q101"],[2,"POS_q81"],[2,"NEG_q228"],[2,"NEG_q201"],[2,"NEG_q70"],[2,"NEG_q160"],[2,"NEG_q99"],[2,"NEG_q240"],[3,"NEG_q258"],[3,"POS_q114"],[3,"NEG_q104"],[4,"NEG_q104"],[4,"NEG_q92"]];
const kSizeVals = [2, 5, 9, 12];
const kFoldTicks = [20, 15, 10, 5, 0];

const lCats = [
  ["Amino sugar and nucleotide sugar metabolism", 230, 403, 246, 385],
  ["Ascorbate and aldarate metabolism", 110, 205, 247, 207],
  ["Carbon fixation in photosynthetic organisms", 797, 330, 630, 330],
  ["D-Amino acid metabolism", 677, 778, 688, 760],
  ["Histidine metabolism", 820, 692, 803, 710],
];
const lMets = [
  ["NEG_q167",253,162,0.6,268,147],["NEG_q133",373,282,0.6,357,297],["NEG_q285",63,353,2.5,110,353],["NEG_q86",93,463,0.6,80,480],
  ["NEG_q110",195,635,0.6,207,620],["NEG_q258",798,118,0.6,785,133],["NEG_q168",730,538,0.6,745,523],["NEG_q63",880,747,0.6,837,740],
  ["NEG_l43",510,822,0.6,524,808],["NEG_q172",823,902,0.6,837,887],["POS_q115",723,935,0.6,707,950],["POS_q123",568,995,0.6,581,980],
];
const lLinks = [[0,"NEG_q167"],[0,"NEG_q133"],[0,"NEG_q285"],[0,"NEG_q86"],[0,"NEG_q110"],[1,"NEG_q167"],[1,"NEG_q285"],[1,"NEG_q86"],[2,"NEG_q258"],[2,"NEG_q168"],[3,"NEG_q168"],[3,"NEG_q63"],[3,"NEG_l43"],[3,"NEG_q172"],[3,"POS_q115"],[3,"POS_q123"],[4,"NEG_q168"],[4,"POS_q115"],[4,"NEG_q172"]];
const lSizeVals = [2, 3, 5, 6];
const lFoldTicks = [2, 1];

// ---------- layout / style ----------
const GREEN_RED = [[0, "#0B5A1E"], [0.18, "#238E2D"], [0.38, "#55BA45"], [0.56, "#B3B3B3"], [0.76, "#EC7C68"], [1, "#E8121A"]];
const BLUE_RED = [[0, "#1E3C9A"], [0.3, "#263E9E"], [0.52, "#5A2F90"], [0.75, "#B81E55"], [1, "#E8141B"]];

const volcanoes = [
  { letter: "A", lp: [25, 24], frame: [24, 42, 323, 337], cal: [273.3, 11.12, 322.3, 44.0], xTicks: xTicksA, xName: "log2(FoldChange)", xnp: [175, 349], xnFs: 8.5, ynp: [13, 190],
    leg: { x: 329, y: 149, dx: 339, tx: 343, ys: [161, 172, 183], vy: 205, vys: [217, 228], vdx: 339, vtx: 345 }, big: 5.6, small: 3,
    off: [[-22.3, -11.3], [-18.7, -7], [-20, 7.3], [15, -5.7], [2.3, 6.7]], annFs: [8, 8, 8, 8, 8],
    d: { up: aUp, down: aDown, unchanged: aUnchangedOut.concat(aUnchangedCore), ann: aAnn, counts: aCounts, vip: aVip } },
  { letter: "B", lp: [410, 24], frame: [418.3, 46.7, 717.3, 342.7], cal: [577.7, 6.48, 327.7, 38.1], xTicks: xTicksWide, xName: "log2(Fold Change)", xnp: [570.7, 353.3], xnFs: 8, ynp: [408.3, 193],
    leg: { x: 720.7, y: 154, dx: 726, tx: 729.3, ys: [165.7, 177, 188], vy: 210, vys: [221.7, 232.7], vdx: 732.7, vtx: 736 }, big: 5.2, small: 2.9,
    off: [[41.3, -6], [25.7, -10.3], [-19.3, -8.3], [-24.7, -0.7], [9.7, 8]], annFs: [8, 7.5, 8, 8, 8],
    d: { up: bUp, down: bDown, unchanged: bUnchangedOut.concat(bUnchangedCore), ann: bAnn, counts: bCounts, vip: bVip } },
  { letter: "C", lp: [785, 24], frame: [800.7, 38.3, 1100, 333.3], cal: [958.7, 6.06, 319.3, 35.4], xTicks: xTicksWide, xName: "log2(Fold  Change)", xnp: [948.3, 346], xnFs: 6.5, ynp: [790, 186.7],
    leg: { x: 1109.3, y: 145.7, dx: 1115, tx: 1124.3, ys: [157.3, 168.3, 179.3], vy: 201.7, vys: [213.7, 225], vdx: 1115, vtx: 1124.3 }, big: 5.2, small: 2.9,
    off: [[37.3, -5.3], [-12.7, -6.7], [17.7, -7], [-7, 7], [10, 7]], annFs: [8, 8, 8, 7.5, 8],
    d: { up: cUp, down: cDown, unchanged: cUnchangedOut.concat(cUnchangedCore), ann: cAnn, counts: cCounts, vip: cVip } },
  { letter: "D", lp: [25, 363], frame: [25, 376.7, 325, 674], cal: [180, 6.525, 659, 44.95], xTicks: xTicksWide, xName: "log2(FoldChange)", xnp: [176.7, 685], xnFs: 8.5, ynp: [13.3, 523.3],
    leg: { x: 330, y: 486, dx: 333.3, tx: 338.3, ys: [497, 508, 519.3], vy: 541.7, vys: [553.7, 564.3], vdx: 340, vtx: 345.7 }, big: 5.2, small: 2.9,
    off: [[-57.7, -7.3], [18.3, -7.7], [-30, -3.3], [49.7, 1.7], [4.3, 4.7]], annFs: [7.5, 8, 8, 8, 8],
    d: { up: dUp, down: dDown, unchanged: dUnchangedOut.concat(dUnchangedCore), ann: dAnn, counts: dCounts, vip: dVip } },
  { letter: "E", lp: [410, 364], frame: [416.7, 377.3, 716.7, 674], cal: [572.3, 6.14, 659, 39.5], xTicks: xTicksWide, xName: "log2(FoldChange)", xnp: [578.3, 685], xnFs: 8.5, ynp: [406, 521.7],
    leg: { x: 726, y: 485.7, dx: 729, tx: 731.7, ys: [497, 508, 519.3], vy: 541.7, vys: [553.7, 564.3], vdx: 732.3, vtx: 740 }, big: 5.2, small: 2.9,
    off: [[-4.3, 7.3], [-7.7, -3.3], [38.3, -6], [22.7, 6.7], [-26.7, 3.3]], annFs: [8, 8, 8, 8, 8],
    d: { up: eUp, down: eDown, unchanged: eUnchangedOut.concat(eUnchangedCore), ann: eAnn, counts: eCounts, vip: eVip } },
  { letter: "F", lp: [787, 363], frame: [806.7, 377.7, 1105, 674], cal: [965.7, 7.52, 659, 44.3], xTicks: xTicksF, xName: "log2(Fold Change)", xnp: [957.7, 685], xnFs: 8, ynp: [795, 526.7],
    leg: { x: 1116, y: 485.7, dx: 1120.7, tx: 1126.7, ys: [497, 508, 519.3], vy: 541.7, vys: [553.7, 564.3], vdx: 1120.7, vtx: 1126.7 }, big: 5.2, small: 2.9,
    off: [[-4, 6.7], [22, -6], [2, -7.3], [23.3, 7], [32, 9]], annFs: [7.5, 11, 11, 11, 11],
    d: { up: fUp, down: fDown, unchanged: fUnchangedOut.concat(fUnchangedCore), ann: fAnn, counts: fCounts, vip: fVip } },
];

const networks = [
  { letter: "G", lp: [83, 726], box: [0, 700, 400, 340], cats: gCats, mets: gMets, links: gLinks, metSize: 4.3, metFs: 5, catFs: [5, 5, 5, 5, 5], edgeW: 1.8, titleFs: 5.5, dec: 1,
    size: { n: [2, 5], d: [8, 12], vals: gSizeVals, title: [270.7, 861], cx: 276.7, ys: [871.7, 883.3, 897.3, 912], tx: 285 },
    fold: { range: [-0.72, 1.5], stops: GREEN_RED, ticks: gFoldTicks, title: [270.7, 799], bar: [271.7, 806, 5.6, 47.3], tx: 281.7 },
    cat: { title: [270.7, 927.7], lx: 271.7, tx: 280, ys: [938.3, 948.3, 957.7, 967.7, 977.3], fs: 3.9 } },
  { letter: "H", lp: [417, 726], box: [370, 700, 420, 340], cats: hCats, mets: hMets, links: hLinks, metSize: 5, metFs: 6.8, catFs: [6.2, 6.2, 7.6, 6.2, 6.2], edgeW: 2, titleFs: 6.5, dec: 0,
    size: { n: [2, 14], d: [8, 14], vals: hSizeVals, title: [698.3, 780], cx: 705.7, ys: [791, 804, 818.3, 835], tx: 715 },
    fold: { range: [-3, 19.5], stops: GREEN_RED, ticks: hFoldTicks, title: [697.7, 852.3], bar: [699, 859.3, 7, 54], tx: 709.3 },
    cat: { title: [697.7, 922.7], lx: 698, tx: 709.3, ys: [934.3, 945.7, 956.7, 967.7, 978.7], fs: 4.5 } },
  { letter: "I", lp: [808, 726], box: [780, 700, 412, 340], cats: iCats, mets: iMets, links: iLinks, metSize: 5, metFs: 6.8, catFs: [6.4, 6.4, 6.4, 6.4, 6.4], edgeW: 2, titleFs: 6.5, dec: 0,
    size: { n: [3, 16], d: [8, 14], vals: iSizeVals, title: [1094.3, 775], cx: 1102.3, ys: [787.3, 799.3, 814, 831], tx: 1113.3 },
    fold: { range: [-3.6, 20.75], stops: GREEN_RED, ticks: iFoldTicks, title: [1094.3, 848.3], bar: [1095, 855, 8.3, 55], tx: 1106.7 },
    cat: { title: [1094.3, 918.3], lx: 1096, tx: 1106, ys: [930, 941, 952.3, 963.3, 974.3], fs: 3.8 } },
  { letter: "J", lp: [88, 1071], box: [0, 1050, 400, 349], cats: jCats, mets: jMets, links: jLinks, metSize: 5, metFs: 6.8, catFs: [6.3, 6.3, 6.3, 6.3, 6.3], edgeW: 2, titleFs: 6.5, dec: 0,
    size: { n: [2, 13], d: [8.7, 14.7], vals: jSizeVals, title: [306.7, 1275], cx: 314, ys: [1286.7, 1299.3, 1314, 1331], tx: 325 },
    fold: { range: [-1.5, 19.4], stops: GREEN_RED, ticks: jFoldTicks, title: [306.7, 1205], bar: [306.7, 1211.7, 8.3, 55], tx: 319.3 },
    cat: { title: [306.7, 1135], lx: 306.7, tx: 318.3, ys: [1147.3, 1158.3, 1169.3, 1180.3, 1191.3], fs: 4.5 } },
  { letter: "K", lp: [417, 1074], box: [380, 1050, 420, 349], cats: kCats, mets: kMets, links: kLinks, metSize: 5, metFs: 6.8, catFs: [6.3, 6.3, 6.3, 6.3, 6.3], edgeW: 2, titleFs: 6.5, dec: 0,
    size: { n: [2, 12], d: [8, 15.3], vals: kSizeVals, title: [691.7, 1135], cx: 700, ys: [1147.3, 1159, 1174, 1191], tx: 710 },
    fold: { range: [-1.4, 20.9], stops: GREEN_RED, ticks: kFoldTicks, title: [691.7, 1278.3], bar: [691.7, 1285, 9, 54.3], tx: 705 },
    cat: { title: [691.7, 1208.3], lx: 691.7, tx: 703.3, ys: [1220.7, 1231.7, 1242.7, 1253.7, 1264.7], fs: 4.5 } },
  { letter: "L", lp: [806, 1074], box: [780, 1050, 412, 349], cats: lCats, mets: lMets, links: lLinks, metSize: 5, metFs: 6.8, catFs: [6.5, 6.5, 6.5, 6.5, 6.5], edgeW: 2, titleFs: 6.5, dec: 0,
    size: { n: [2, 6], d: [8.7, 14.7], vals: lSizeVals, title: [1089.3, 1204.3], cx: 1097.7, ys: [1216, 1229, 1244, 1261], tx: 1108.3 },
    fold: { range: [0.03, 2.93], stops: BLUE_RED, ticks: lFoldTicks, title: [1089.3, 1134.3], bar: [1090, 1141.7, 8.3, 55], tx: 1101.7 },
    cat: { title: [1089.3, 1279], lx: 1090, tx: 1101, ys: [1290.7, 1301.7, 1312.7, 1324, 1335], fs: 3.8 } },
];

// ---------- helpers ----------
function hexToRgb(h: string) {
  const n = parseInt(h.slice(1), 16);
  return [(n >> 16) & 255, (n >> 8) & 255, n & 255];
}
function interp(stops: any[], t: number) {
  t = Math.max(0, Math.min(1, t));
  for (let i = 1; i < stops.length; i++) {
    if (t <= stops[i][0]) {
      const t0 = stops[i - 1][0], t1 = stops[i][0];
      const f = (t - t0) / (t1 - t0);
      const a = hexToRgb(stops[i - 1][1]), b = hexToRgb(stops[i][1]);
      return "rgb(" + a.map((v, k) => Math.round(v + (b[k] - v) * f)).join(",") + ")";
    }
  }
  return stops[stops.length - 1][1];
}
function txt(text: string, x: number, y: number, fs: number, ff: string, fill: string, align: string) {
  return {
    type: "text", x, y, silent: true, z: 100,
    style: { text, fontSize: fs, fontFamily: ff, fill, align, textAlign: align, verticalAlign: "middle", textVerticalAlign: "middle" },
  };
}

function addVolcano(opt: any, g: any[], gi: number, L: any) {
  const D = L.d;
  const [ol, ot, orr, ob] = L.frame;
  const left = ol + 2, top = ot + 2, right = orr - 2, bottom = ob - 2;
  const [x0, xp, y0, yp] = L.cal;
  opt.grid.push({ left, top, width: right - left, height: bottom - top, show: true, borderColor: "#1b1b1b", borderWidth: 4, backgroundColor: "#ffffff" });
  const lab = { fontSize: 5, color: "#8a8a8a", fontFamily: SERIF };
  opt.xAxis.push({ type: "value", gridIndex: gi, min: (left - x0) / xp, max: (right - x0) / xp, splitLine: { show: false }, axisLine: { show: false }, axisTick: { show: false },
    axisLabel: { ...lab, customValues: L.xTicks, margin: 5 } });
  opt.yAxis.push({ type: "value", gridIndex: gi, min: (y0 - bottom) / yp, max: (y0 - top) / yp, splitLine: { show: false }, axisLine: { show: false }, axisTick: { show: false },
    axisLabel: { ...lab, customValues: yTicks, margin: 4 } });
  const base = { type: "scatter", xAxisIndex: gi, yAxisIndex: gi, symbol: "circle", silent: true, symbolSize: (v: any) => (v[2] ? L.big : L.small) };
  opt.series.push({ ...base, data: D.unchanged, itemStyle: { color: GREY }, z: 2 });
  opt.series.push({ ...base, data: D.down, itemStyle: { color: BLUE }, z: 3 });
  opt.series.push({ ...base, data: D.up, itemStyle: { color: BLACK }, z: 3 });
  opt.series.push({
    ...base, symbolSize: L.big, z: 4,
    label: { show: true, formatter: "{b}" },
    labelLine: { show: true, lineStyle: { width: 1 } },
    labelLayout: (p: any) => ({ dx: L.off[p.dataIndex][0], dy: L.off[p.dataIndex][1] }),
    data: D.ann.map((a: any, k: number) => {
      const up = a[1] === "up";
      return {
        name: a[0], value: [a[2], a[3]], itemStyle: { color: up ? BLACK : BLUE },
        label: { show: true, position: "inside", color: up ? BLACK_TXT : BLUE_TXT, fontSize: L.annFs[k], fontFamily: SERIF },
        labelLine: { show: true, lineStyle: { color: up ? BLACK : BLUE, width: 1 } },
      };
    }),
  });
  opt.series.push({
    type: "scatter", xAxisIndex: gi, yAxisIndex: gi, data: [], silent: true, z: 5,
    markLine: { silent: true, symbol: "none", animation: false, label: { show: false }, lineStyle: { color: "#222", type: [6, 3], width: 1.3 }, data: [{ yAxis: 2 }, { xAxis: 0 }] },
  });
  g.push(txt(L.letter, L.lp[0], L.lp[1], 22, SERIF, "#222", "center"));
  g.push(txt(L.xName, L.xnp[0], L.xnp[1], L.xnFs, SERIF, "#333", "center"));
  g.push({ ...txt("-log10(P value)", L.ynp[0], L.ynp[1], 6.5, SERIF, "#333", "center"), rotation: Math.PI / 2 });
  const lg = L.leg;
  g.push(txt("regulated", lg.x, lg.y, 8, SERIF, "#333", "left"));
  const names = ["up:" + D.counts[0], "down:" + D.counts[1], "unchanged:" + D.counts[2]];
  [BLACK, BLUE, GREY].forEach((c, k) => {
    g.push({ type: "circle", silent: true, z: 100, shape: { cx: lg.dx, cy: lg.ys[k], r: 1.7 }, style: { fill: c } });
    g.push(txt(names[k], lg.tx, lg.ys[k], 7.5, SERIF, "#333", "left"));
  });
  g.push(txt("VIP", lg.x, lg.vy, 8, SERIF, "#333", "left"));
  D.vip.forEach((v: string, k: number) => {
    g.push({ type: "circle", silent: true, z: 100, shape: { cx: lg.vdx, cy: lg.vys[k], r: k ? 2.5 : 1.4 }, style: { fill: BLACK } });
    g.push(txt(v, lg.vtx, lg.vys[k], 7.5, SERIF, "#333", "left"));
  });
}

function addNetwork(opt: any, g: any[], gi: number, P: any) {
  const [bx, by, bw, bh] = P.box;
  opt.grid.push({ left: bx, top: by, width: bw, height: bh, show: false });
  opt.xAxis.push({ type: "value", gridIndex: gi, min: 0, max: bw * 3, show: false });
  opt.yAxis.push({ type: "value", gridIndex: gi, min: 0, max: bh * 3, inverse: true, show: false });
  const sz = (n: number) => P.size.d[0] + ((n - P.size.n[0]) / (P.size.n[1] - P.size.n[0])) * (P.size.d[1] - P.size.d[0]);
  const deg = P.cats.map((_: any, ci: number) => P.links.filter((l: any) => l[0] === ci).length);
  const [f0, f1] = P.fold.range;
  const labBase = { show: true, position: "inside", fontFamily: NARROW, color: "#111" };
  const nodes = [
    ...P.cats.map((c: any, ci: number) => ({
      name: c[0], value: [c[1], c[2]], symbolSize: sz(deg[ci]) * 0.9, itemStyle: { color: TAN },
      label: { ...labBase, fontSize: P.catFs[ci], offset: [(c[3] - c[1]) / 3, (c[4] - c[2]) / 3] },
    })),
    ...P.mets.map((m: any) => ({
      name: m[0], value: [m[1], m[2]], symbolSize: P.metSize, itemStyle: { color: interp(P.fold.stops, (m[3] - f0) / (f1 - f0)) },
      label: { ...labBase, fontSize: P.metFs, offset: [(m[4] - m[1]) / 3, (m[5] - m[2]) / 3] },
    })),
  ];
  const idx: any = {};
  P.mets.forEach((m: any, k: number) => (idx[m[0]] = P.cats.length + k));
  const links = P.links.map((l: any) => ({ source: l[0], target: idx[l[1]], lineStyle: { color: CAT_COLORS[l[0]], width: P.edgeW, opacity: 1, curveness: 0 } }));
  opt.series.push({
    type: "graph", coordinateSystem: "cartesian2d", xAxisIndex: gi, yAxisIndex: gi, symbol: "circle", silent: true, roam: false,
    data: nodes, links, label: { show: true, formatter: "{b}" }, emphasis: { disabled: true }, z: 3,
  });

  // legend pieces
  g.push(txt(P.letter, P.lp[0], P.lp[1], 22, SERIF, "#222", "center"));
  const F = P.fold;
  g.push(txt("fold change", F.title[0], F.title[1], P.titleFs, NARROW, "#222", "left"));
  const [rx, ry, rw, rh] = F.bar;
  g.push({ type: "rect", silent: true, z: 100, shape: { x: rx, y: ry, width: rw, height: rh },
    style: { fill: new echarts.graphic.LinearGradient(0, 1, 0, 0, F.stops.map((s: any) => ({ offset: s[0], color: s[1] }))) } });
  F.ticks.forEach((v: number) => {
    const y = ry + ((f1 - v) / (f1 - f0)) * rh;
    g.push({ type: "line", silent: true, z: 101, shape: { x1: rx, y1: y, x2: rx + 1.5, y2: y }, style: { stroke: "#fff", lineWidth: 0.6 } });
    g.push({ type: "line", silent: true, z: 101, shape: { x1: rx + rw - 1.5, y1: y, x2: rx + rw, y2: y }, style: { stroke: "#fff", lineWidth: 0.6 } });
    g.push(txt(v.toFixed(P.dec), F.tx, y, 4.5, NARROW, "#333", "left"));
  });
  const S = P.size;
  g.push(txt("size", S.title[0], S.title[1], P.titleFs, NARROW, "#222", "left"));
  S.vals.forEach((v: number, k: number) => {
    g.push({ type: "circle", silent: true, z: 100, shape: { cx: S.cx, cy: S.ys[k], r: sz(v) / 2 }, style: { fill: "#000" } });
    g.push(txt(String(v), S.tx, S.ys[k], 4.5, NARROW, "#333", "left"));
  });
  const C = P.cat;
  g.push(txt("category", C.title[0], C.title[1], P.titleFs, NARROW, "#222", "left"));
  P.cats.forEach((c: any, k: number) => {
    g.push({ type: "line", silent: true, z: 100, shape: { x1: C.lx, y1: C.ys[k], x2: C.lx + 6.5, y2: C.ys[k] }, style: { stroke: CAT_COLORS[k], lineWidth: 1.5 } });
    g.push(txt(c[0], C.tx, C.ys[k], C.fs, NARROW, "#333", "left"));
  });
}

function buildOption() {
  const opt: any = { animation: false, backgroundColor: "#ffffff", grid: [], xAxis: [], yAxis: [], series: [] };
  const g: any[] = [];
  let gi = 0;
  volcanoes.forEach((L) => addVolcano(opt, g, gi++, L));
  networks.forEach((P) => addNetwork(opt, g, gi++, P));
  opt.graphic = { elements: g };
  return opt;
}

export default function App() {
  const ref = useRef<HTMLDivElement>(null);
  useEffect(() => {
    const chart = echarts.init(ref.current as HTMLDivElement, null, { renderer: "svg" });
    chart.setOption(buildOption());
    return () => chart.dispose();
  }, []);
  return <div ref={ref} style={{ position: "absolute", left: 0, top: 0, width: 1192, height: 1399, background: "#ffffff" }} />;
}
